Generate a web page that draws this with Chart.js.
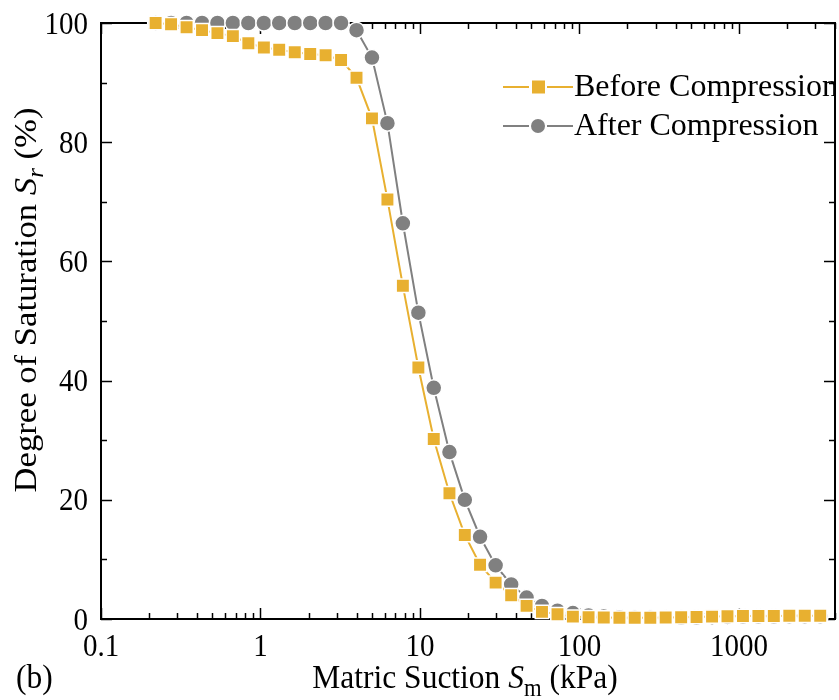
<!DOCTYPE html>
<html lang="en">
<head>
    <meta charset="UTF-8">
    <title>Degree of Saturation vs Matric Suction</title>
    <script src="https://cdn.jsdelivr.net/npm/chart.js"></script>
    <style>
        html, body {
            margin: 0;
            padding: 0;
            background: #fff;
        }
        canvas {
            display: block;
        }
    </style>
</head>
<body>
    <canvas id="swcc" width="839" height="700"></canvas>

    <script>
        // matric suction (kPa), one point every x1.25
        const suction = [0.22, 0.275, 0.344, 0.43, 0.537, 0.671, 0.839, 1.05, 1.31, 1.64, 2.05, 2.56, 3.2,
            4, 5, 6.25, 7.81, 9.77, 12.2, 15.3, 19.1, 23.8, 29.8, 37.3, 46.6, 58.2, 72.8, 90.9,
            114, 142, 178, 222, 278, 347, 434, 542, 678, 847, 1059, 1324, 1654, 2068, 2585, 3231];

        // degree of saturation Sr (%)
        const srBefore = [100, 99.8, 99.3, 98.8, 98.3, 97.8, 96.6, 95.9, 95.5, 95.1, 94.8, 94.6, 93.8,
            90.8, 84.0, 70.4, 55.9, 42.2, 30.2, 21.1, 14.1, 9.1, 6.1, 4.0, 2.2, 1.2, 0.8, 0.4,
            0.3, 0.25, 0.2, 0.2, 0.2, 0.25, 0.3, 0.35, 0.4, 0.45, 0.5, 0.5, 0.5, 0.55, 0.55, 0.55];
        const srAfter = [100, 100, 100, 100, 100, 100, 100, 100, 100, 100, 100, 100, 100,
            98.8, 94.2, 83.2, 66.4, 51.4, 38.8, 28.0, 20.0, 13.8, 9.0, 5.8, 3.6, 2.2, 1.4, 1.0,
            0.6, 0.4, 0.3, 0.2, 0.2, 0.2, 0.2, 0.25, 0.3, 0.35, 0.4, 0.4, 0.4, 0.45, 0.45, 0.45];

        const seriesNames = ['Before Compression', 'After Compression'];
        const xTickValues = [0.1, 1, 10, 100, 1000];
        const yTickValues = [0, 20, 40, 60, 80, 100];

        const GOLD = '#E8B030';
        const GREY = '#808080';
        const SERIF = "'Liberation Serif', 'Times New Roman', serif";
        const STRETCH = 1.1;   // text is a little taller than the font's own shape

        function toPoints(ys) {
            return suction.map((x, i) => ({ x: x, y: ys[i] }));
        }

        function seg(ctx, x1, y1, x2, y2) {
            ctx.beginPath();
            ctx.moveTo(x1, y1);
            ctx.lineTo(x2, y2);
            ctx.stroke();
        }

        function label(ctx, text, x, y, align, size) {
            ctx.save();
            ctx.translate(x, y);
            ctx.scale(1, STRETCH);
            ctx.font = size + 'px ' + SERIF;
            ctx.textAlign = align;
            ctx.textBaseline = 'alphabetic';
            ctx.fillText(text, 0, 0);
            ctx.restore();
        }

        // draws a list of text runs (plain / italic / subscript) centred on the origin
        function drawRuns(ctx, runs, size) {
            const fontOf = r => (r.italic ? 'italic ' : '') + (r.sub ? size * 0.72 : size) + 'px ' + SERIF;
            let total = 0;
            runs.forEach(r => { ctx.font = fontOf(r); total += ctx.measureText(r.t).width; });
            let x = -total / 2;
            ctx.textAlign = 'left';
            ctx.textBaseline = 'alphabetic';
            runs.forEach(r => {
                ctx.font = fontOf(r);
                ctx.fillText(r.t, x, r.sub ? size * 0.22 : 0);
                x += ctx.measureText(r.t).width;
            });
        }

        // inward ticks on all four sides, the box and the legend inside it
        const framePlugin = {
            id: 'frame',
            beforeDatasetsDraw(chart) {
                const { ctx, chartArea: a, scales: { x, y } } = chart;
                ctx.save();

                // legend, clipped by the box
                ctx.save();
                ctx.beginPath();
                ctx.rect(a.left, a.top, a.width, a.height);
                ctx.clip();
                const rows = [
                    { name: seriesNames[0], color: GOLD, shape: 'rect', cy: 87, base: 96 },
                    { name: seriesNames[1], color: GREY, shape: 'circle', cy: 126, base: 135 }
                ];
                rows.forEach(r => {
                    ctx.strokeStyle = r.color;
                    ctx.lineWidth = 2;
                    seg(ctx, 503, r.cy, 529, r.cy);
                    seg(ctx, 547, r.cy, 573, r.cy);
                    ctx.fillStyle = r.color;
                    if (r.shape === 'rect') {
                        ctx.fillRect(532, r.cy - 6.5, 13, 13);
                    } else {
                        ctx.beginPath();
                        ctx.arc(538, r.cy, 7, 0, Math.PI * 2);
                        ctx.fill();
                    }
                    ctx.fillStyle = '#000';
                    ctx.font = '32px ' + SERIF;
                    ctx.textAlign = 'left';
                    ctx.textBaseline = 'alphabetic';
                    ctx.fillText(r.name, 574, r.base);
                });
                ctx.restore();

                ctx.strokeStyle = '#000';
                ctx.lineWidth = 1.5;
                for (let d = -1; d <= 3; d++) {
                    for (let m = 1; m <= 9; m++) {
                        const v = m * Math.pow(10, d);
                        if (v < x.min || v > x.max) continue;
                        const px = Math.round(x.getPixelForValue(v)) + 0.5;
                        const len = m === 1 ? 11 : 6;
                        seg(ctx, px, a.bottom, px, a.bottom - len);
                        seg(ctx, px, a.top, px, a.top + len);
                    }
                }
                for (let v = 0; v <= 100; v += 10) {
                    const py = Math.round(y.getPixelForValue(v)) + 0.5;
                    const len = v % 20 === 0 ? 11 : 6;
                    seg(ctx, a.left, py, a.left + len, py);
                    seg(ctx, a.right, py, a.right - len, py);
                }
                ctx.lineWidth = 2;
                ctx.strokeRect(a.left, a.top, a.width, a.height);
                ctx.restore();
            },
            afterDraw(chart) {
                const { ctx, chartArea: a, scales: { x, y } } = chart;
                ctx.save();
                ctx.fillStyle = '#000';

                // tick labels
                xTickValues.forEach(v => label(ctx, String(v), x.getPixelForValue(v), a.bottom + 37, 'center', 29));
                yTickValues.forEach(v => label(ctx, String(v), a.left - 13, y.getPixelForValue(v) + 10.5, 'right', 29));

                // axis titles
                ctx.save();
                ctx.translate((a.left + a.right) / 2 - 3, 688);
                ctx.scale(1, STRETCH);
                drawRuns(ctx, [
                    { t: 'Matric Suction ' },
                    { t: 'S', italic: true },
                    { t: 'm', sub: true },
                    { t: ' (kPa)' }
                ], 31.5);
                ctx.restore();

                ctx.save();
                ctx.translate(36, 300);
                ctx.rotate(-Math.PI / 2);
                ctx.scale(STRETCH, 1);
                drawRuns(ctx, [
                    { t: 'Degree of Saturation ' },
                    { t: 'S', italic: true },
                    { t: 'r', italic: true, sub: true },
                    { t: ' (%)' }
                ], 31.5);
                ctx.restore();

                label(ctx, '(b)', 16, 688, 'left', 31.5);
                ctx.restore();
            }
        };

        const chart = new Chart(document.getElementById('swcc'), {
            type: 'line',
            data: {
                datasets: [{
                    label: seriesNames[0],
                    data: toPoints(srBefore),
                    borderColor: GOLD,
                    backgroundColor: GOLD,
                    borderWidth: 2,
                    pointStyle: 'rect',
                    pointRadius: 9.5,
                    pointBackgroundColor: GOLD,
                    pointBorderColor: '#fff',
                    pointBorderWidth: 1.5,
                    tension: 0,
                    clip: false
                }, {
                    label: seriesNames[1],
                    data: toPoints(srAfter),
                    borderColor: GREY,
                    backgroundColor: GREY,
                    borderWidth: 2,
                    pointStyle: 'circle',
                    pointRadius: 8,
                    pointBackgroundColor: GREY,
                    pointBorderColor: '#fff',
                    pointBorderWidth: 1.5,
                    tension: 0,
                    clip: false
                }]
            },
            options: {
                responsive: false,
                animation: false,
                layout: {
                    autoPadding: false,
                    padding: { top: 23, right: 4, left: 0, bottom: 0 }
                },
                plugins: {
                    legend: { display: false },
                    tooltip: { enabled: false }
                },
                scales: {
                    x: {
                        type: 'logarithmic',
                        min: 0.1,
                        max: 4000,
                        grid: { display: false },
                        border: { display: false },
                        ticks: { display: false },
                        afterFit: s => { s.height = 81; }
                    },
                    y: {
                        type: 'linear',
                        min: 0,
                        max: 100,
                        grid: { display: false },
                        border: { display: false },
                        ticks: { display: false },
                        afterFit: s => { s.width = 101; }
                    }
                }
            },
            plugins: [framePlugin]
        });
    </script>
</body>
</html>
